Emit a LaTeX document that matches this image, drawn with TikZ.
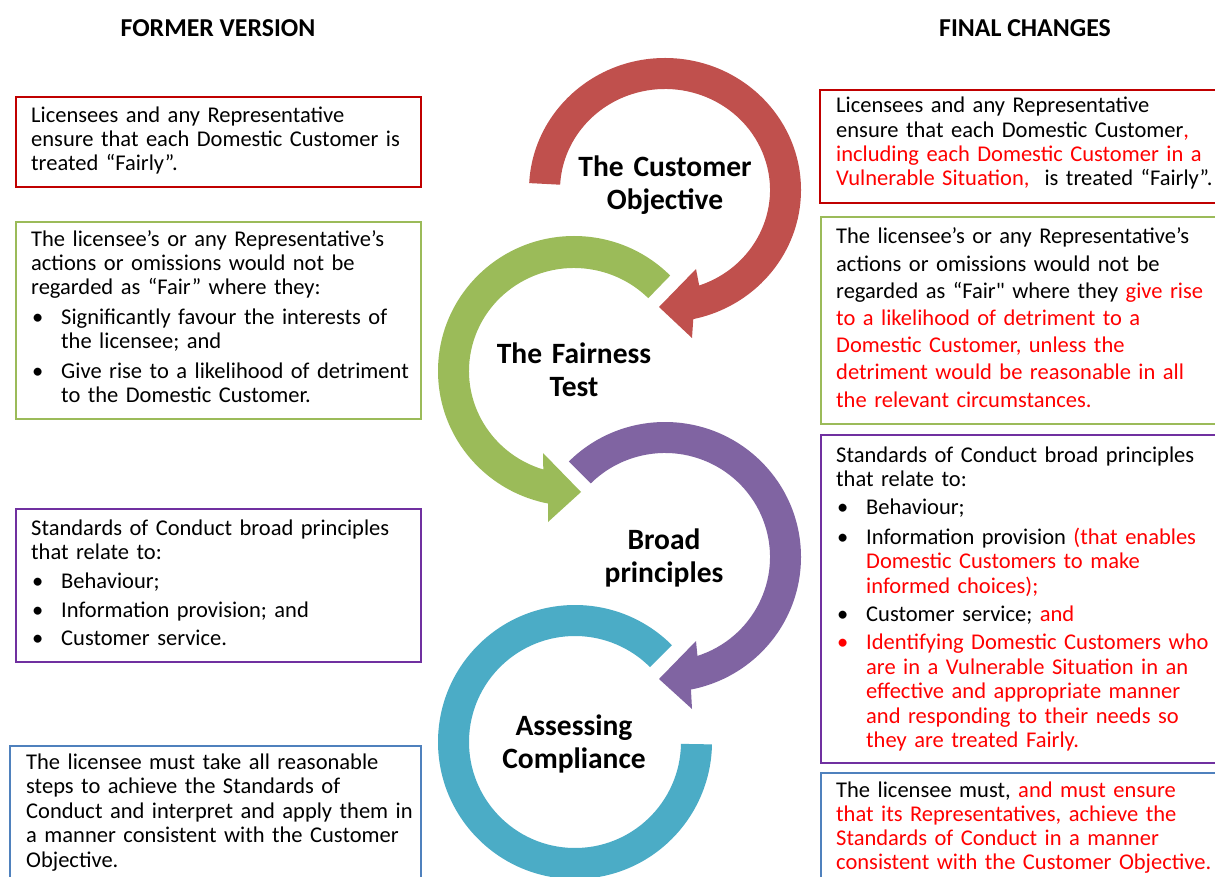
\documentclass[tikz,border=0pt]{standalone}
\usepackage{fontspec}
\setmainfont{Carlito}
\newfontfamily\plainquote{Carlito}[Ligatures=TeXOff]
\usetikzlibrary{calc}

% ring colours
\definecolor{ringRed}{HTML}{C0504D}
\definecolor{ringGreen}{HTML}{9BBB59}
\definecolor{ringPurple}{HTML}{8064A2}
\definecolor{ringTeal}{HTML}{4BACC6}
% frame colours
\definecolor{frRed}{HTML}{C00000}
\definecolor{frGreen}{HTML}{9BBB59}
\definecolor{frPurple}{HTML}{7030A0}
\definecolor{frBlue}{HTML}{4F81BD}
\definecolor{newText}{HTML}{FF0000}

% wording added in the final version
\newcommand\chg[1]{\textcolor{newText}{#1}}
% bullet item with hanging indent; optional colour for the bullet
\newcommand\bitem[3][black]{\par\vspace{#2}\hangindent=30pt\hangafter=1\noindent
  \makebox[30pt][l]{\hspace{1pt}\textcolor{#1}{\textbullet}}#3\par}

\tikzset{
  frame/.style={draw=#1, line width=2pt, inner sep=0pt, anchor=north west},
  body/.style={anchor=base west, inner sep=0pt, text width=420pt, align=left,
    font=\fontsize{22.5}{#1}\selectfont},
  body/.default=24,
  head/.style={inner sep=0pt, font=\fontsize{25.8}{30}\selectfont\bfseries},
  stage/.style={anchor=base, inner sep=0pt, text width=260pt, align=center,
    font=\fontsize{29.5}{33}\selectfont\bfseries},
}

\begin{document}
\begin{tikzpicture}[x=1pt, y=1pt]
\useasboundingbox (0,0) rectangle (1215,-877);
\clip (0,0) rectangle (1215,-877);
\fill[white] (0,0) rectangle (1215,-877);

% ---------- column headings ----------
\node[head] (hOld) at (218,-28) {FORMER VERSION};
\node[head] (hNew) at (1025,-28) {FINAL CHANGES};

% ---------- circular arrows ----------
\coordinate (cR) at (665,-190);
\coordinate (cG) at (574,-371);
\coordinate (cP) at (665,-557);
\coordinate (cT) at (575,-742);

\fill[ringRed] ($(cR)+(177:136pt and 132pt)$)
  arc[start angle=177, end angle=-78, x radius=136pt, y radius=132pt]
  -- (692,-338) -- (659,-307) -- (696,-269)
  -- ($(cR)+(-71:105pt and 101pt)$)
  arc[start angle=-71, end angle=177, x radius=105pt, y radius=101pt] -- cycle;

\fill[ringGreen] ($(cG)+(45:136pt and 135pt)$)
  arc[start angle=45, end angle=259, x radius=136pt, y radius=135pt]
  -- (548,-522) -- (581,-492) -- (543,-453)
  -- ($(cG)+(253:105pt and 103pt)$)
  arc[start angle=253, end angle=45, x radius=105pt, y radius=103pt] -- cycle;

\fill[ringPurple] ($(cP)+(135:136pt and 135pt)$)
  arc[start angle=135, end angle=-79, x radius=136pt, y radius=135pt]
  -- (692,-709) -- (659,-679) -- (696,-641)
  -- ($(cP)+(-72:105pt and 104pt)$)
  arc[start angle=-72, end angle=135, x radius=105pt, y radius=104pt] -- cycle;

\fill[ringTeal] ($(cT)+(45:137pt)$)
  arc[start angle=45, end angle=359, radius=137pt]
  -- ($(cT)+(359:106pt)$)
  arc[start angle=359, end angle=45, radius=106pt] -- cycle;

% ---------- stage labels ----------
\node[stage] (sObj) at (665,-177) {The Customer\\Objective};
\node[stage] (sFair) at (574,-363) {The Fairness\\Test};
\node[stage] (sBroad) at (664,-549) {Broad\\principles};
\node[stage] (sComp) at (574,-735) {Assessing\\Compliance};

% ---------- former version ----------
\node[frame=frRed, minimum width=405pt, minimum height=90pt] (fOld1) at (15,-96) {};
\node[body] (tOld1) at (31,-123)
  {Licensees and any Representative\\ensure that each Domestic Customer is\\treated “Fairly”.};

\node[frame=frGreen, minimum width=405pt, minimum height=197pt] (fOld2) at (15,-221) {};
\node[body] (tOld2) at (31,-247)
  {The licensee’s or any Representative’s\\actions or omissions would not be\\regarded as “Fair” where they:
   \bitem{6pt}{Significantly favour the interests of\newline the licensee; and}
   \bitem{6pt}{Give rise to a likelihood of detriment\newline to the Domestic Customer.}};

\node[frame=frPurple, minimum width=405pt, minimum height=153pt] (fOld3) at (15,-508) {};
\node[body] (tOld3) at (31,-535)
  {Standards of Conduct broad principles\\that relate to:
   \bitem{5pt}{Behaviour;}
   \bitem{5pt}{Information provision; and}
   \bitem{4pt}{Customer service.}};

\node[frame=frBlue, minimum width=411pt, minimum height=150pt] (fOld4) at (9,-745) {};
\node[body=24.5] (tOld4) at (26,-769)
  {The licensee must take all reasonable\\steps to achieve the Standards of\\Conduct and interpret and apply them in\\a manner consistent with the Customer\\Objective.};

% ---------- final changes ----------
\node[frame=frRed, minimum width=420pt, minimum height=113pt] (fNew1) at (819,-89) {};
\node[body=24.3] (tNew1) at (836,-113)
  {Licensees and any Representative\\ensure that each Domestic Customer\chg{,}\\\chg{including each Domestic Customer in a}\\\chg{Vulnerable Situation,}\ \ is treated “Fairly”.};

\node[frame=frGreen, minimum width=420pt, minimum height=207pt] (fNew2) at (820,-216) {};
\node[body=27.2] (tNew2) at (836,-244)
  {The licensee’s or any Representative’s\\actions or omissions would not be\\regarded as “Fair{\plainquote"} where they \chg{give rise}\\\chg{to a likelihood of detriment to a}\\\chg{Domestic Customer, unless the}\\\chg{detriment would be reasonable in all}\\\chg{the relevant circumstances.}};

\node[frame=frPurple, minimum width=420pt, minimum height=328pt] (fNew3) at (820,-434) {};
\node[body=24.4] (tNew3) at (836,-462)
  {Standards of Conduct broad principles\\that relate to:
   \bitem{4pt}{Behaviour;}
   \bitem{5pt}{Information provision \chg{(that enables}\newline\chg{Domestic Customers to make}\newline\chg{informed choices);}}
   \bitem{4pt}{Customer service; \chg{and}}
   \bitem[newText]{4pt}{\chg{Identifying Domestic Customers who}\newline\chg{are in a Vulnerable Situation in an}\newline\chg{effective and appropriate manner}\newline\chg{and responding to their needs so}\newline\chg{they are treated Fairly.}}};

\node[frame=frBlue, minimum width=420pt, minimum height=130pt] (fNew4) at (820,-772) {};
\node[body=24.3] (tNew4) at (836,-797)
  {The licensee must, \chg{and must ensure}\\\chg{that its Representatives, achieve the}\\\chg{Standards of Conduct in a manner}\\\chg{consistent with the Customer Objective.}};
\end{tikzpicture}
\end{document}
